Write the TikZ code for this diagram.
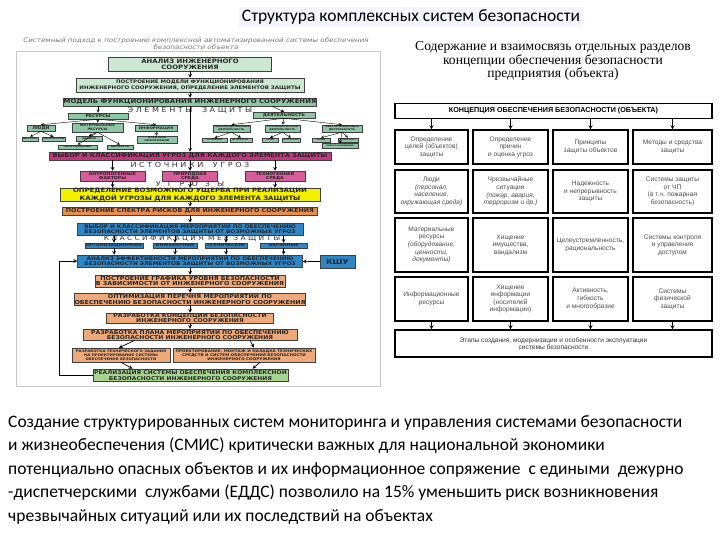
\documentclass[tikz,border=0pt]{standalone}
\usepackage{fontspec}
\setmainfont{Carlito}
\newfontfamily\serifru{Liberation Serif}
\newfontfamily\tabf{Liberation Sans}
\newfontfamily\capsf[FakeStretch=1.15]{DejaVu Sans}

\definecolor{grlight}{HTML}{CDE8D2}
\definecolor{grmid}{HTML}{8CC6A2}
\definecolor{mag}{HTML}{C8357F}
\definecolor{magl}{HTML}{D65C9C}
\definecolor{yel}{HTML}{F4F000}
\definecolor{ora}{HTML}{E98D4E}
\definecolor{oral}{HTML}{EFA877}
\definecolor{blu}{HTML}{2F86C6}
\definecolor{grfin}{HTML}{A6D68E}

\begin{document}
\begin{tikzpicture}[x=1pt,y=-1pt,>=stealth]
  \useasboundingbox (0,0) rectangle (720,540);
  \tikzstyle{blk}=[draw=black!75, line width=0.5pt, inner sep=0pt, align=center, text=black!85, font=\capsf\bfseries\fontsize{5.5}{5.8}\selectfont]
  \tikzstyle{leaf}=[blk, font=\capsf\bfseries\fontsize{2.5}{2.8}\selectfont]
  \tikzstyle{spaced}=[inner sep=0pt, text=black!80, font=\capsf\fontsize{7}{7}\selectfont]
  \tikzstyle{tl}=[->, line width=0.4pt]
  \tikzstyle{ml}=[->, line width=0.7pt]
  \tikzstyle{cell}=[draw, line width=1.1pt, fill=white, align=center, inner sep=1pt, text=black!70, font=\tabf\fontsize{6.6}{7.6}\selectfont]
  \tikzstyle{arr}=[->, line width=0.9pt]

  % title
  \node[fill=blue!4, inner sep=3pt, font=\fontsize{17.5}{19}\selectfont] (title) at (411,17) {Структура комплексных систем безопасности};

  % left picture
  \draw[gray!45, line width=0.8pt] (16,51) rectangle (380,386);
  \node[align=center, text=black!55, font=\capsf\itshape\fontsize{6.2}{7}\selectfont] (srctitle) at (196,44) {Системный подход к построению комплексной автоматизированной системы обеспечения\\безопасности объекта};

  \node[blk, fill=grlight, minimum width=163pt, minimum height=14pt, font=\capsf\bfseries\fontsize{6}{6.3}\selectfont] (analiz) at (190,64) {АНАЛИЗ ИНЖЕНЕРНОГО\\СООРУЖЕНИЯ};
  \node[blk, fill=grlight, minimum width=228pt, minimum height=14pt, font=\capsf\bfseries\fontsize{4.8}{5.4}\selectfont] (postr) at (190,85) {ПОСТРОЕНИЕ МОДЕЛИ ФУНКЦИОНИРОВАНИЯ\\ИНЖЕНЕРНОГО СООРУЖЕНИЯ, ОПРЕДЕЛЕНИЕ ЭЛЕМЕНТОВ ЗАЩИТЫ};
  \node[blk, fill=grmid, minimum width=252pt, minimum height=8pt, font=\capsf\bfseries\fontsize{6}{6}\selectfont] (model) at (190,102) {МОДЕЛЬ ФУНКЦИОНИРОВАНИЯ ИНЖЕНЕРНОГО СООРУЖЕНИЯ};
  \node[spaced] (elem) at (190,110) {Э Л Е М Е Н Т Ы \quad З А Щ И Т Ы};

  \node[leaf, fill=grmid, minimum width=60pt, minimum height=6pt, font=\capsf\bfseries\fontsize{4}{4}\selectfont] (resursy) at (98,116) {РЕСУРСЫ};
  \node[leaf, fill=grmid, minimum width=62pt, minimum height=6pt, font=\capsf\bfseries\fontsize{4}{4}\selectfont] (deyat) at (284,115) {ДЕЯТЕЛЬНОСТЬ};
  \node[leaf, fill=grmid, minimum width=28pt, minimum height=6pt, font=\capsf\bfseries\fontsize{4}{4}\selectfont] (lyudi) at (41,128) {ЛЮДИ};
  \node[leaf, fill=grmid, minimum width=51pt, minimum height=9pt, font=\capsf\bfseries\fontsize{3.2}{3.6}\selectfont] (mater) at (97.5,127.5) {МАТЕРИАЛЬНЫЕ\\РЕСУРСЫ};
  \node[leaf, fill=grmid, minimum width=42pt, minimum height=6pt, font=\capsf\bfseries\fontsize{3.5}{3.5}\selectfont] (inform) at (156,128) {ИНФОРМАЦИЯ};
  \node[leaf, fill=grmid, minimum width=37pt, minimum height=7pt] (dproizv) at (231.5,128.5) {ПРОИЗВОДСТВЕННАЯ\\ДЕЯТЕЛЬНОСТЬ};
  \node[leaf, fill=grmid, minimum width=35pt, minimum height=7pt] (dupr) at (282.5,128.5) {УПРАВЛЕНЧЕСКАЯ\\ДЕЯТЕЛЬНОСТЬ};
  \node[leaf, fill=grmid, minimum width=40pt, minimum height=7pt] (dobesp) at (342,128.5) {ОБЕСПЕЧИВАЮЩАЯ\\ДЕЯТЕЛЬНОСТЬ};

  \node[leaf, fill=grmid, minimum width=16pt, minimum height=4pt, font=\capsf\bfseries\fontsize{2}{2.2}\selectfont] (lpers) at (30,139) {ПЕРСОНАЛ};
  \node[leaf, fill=grmid, minimum width=23pt, minimum height=4pt] (lposet) at (53.5,139) {ПОСЕТИТЕЛИ};
  \node[leaf, fill=grmid, minimum width=26pt, minimum height=5pt] (mzdan) at (89,138.5) {ЗДАНИЯ};
  \node[leaf, fill=grmid, minimum width=39pt, minimum height=4pt] (moborud) at (77.5,147) {ОБОРУДОВАНИЕ};
  \node[leaf, fill=grmid, minimum width=26pt, minimum height=4pt] (mcenn) at (120,147) {ЦЕННОСТИ};
  \node[leaf, fill=grmid, minimum width=40pt, minimum height=7pt] (inos) at (157,139.5) {НОСИТЕЛИ\\ИНФОРМАЦИИ};
  \node[leaf, fill=grmid, minimum width=25pt, minimum height=4pt, font=\capsf\bfseries\fontsize{2}{2.2}\selectfont] (dpa) at (214.5,140) {ОСНОВНАЯ};
  \node[leaf, fill=grmid, minimum width=22pt, minimum height=4pt, font=\capsf\bfseries\fontsize{2}{2.2}\selectfont] (dpb) at (241,140) {ВСПОМОГАТ.};
  \node[leaf, fill=grmid, minimum width=16pt, minimum height=4pt, font=\capsf\bfseries\fontsize{2}{2.2}\selectfont] (dua) at (270,140) {ПЛАН};
  \node[leaf, fill=grmid, minimum width=18pt, minimum height=4pt, font=\capsf\bfseries\fontsize{2}{2.2}\selectfont] (dub) at (291,140) {КОНТРОЛЬ};
  \node[leaf, fill=grmid, minimum width=18pt, minimum height=4pt, font=\capsf\bfseries\fontsize{2}{2.2}\selectfont] (doa) at (321,140) {СВЯЗЬ};
  \node[leaf, fill=grmid, minimum width=20pt, minimum height=4pt, font=\capsf\bfseries\fontsize{2}{2.2}\selectfont] (dob) at (348,140) {ТРАНСПОРТ};
  \node[leaf, fill=grmid, minimum width=36pt, minimum height=5pt, font=\capsf\bfseries\fontsize{2}{2.2}\selectfont] (doc) at (340,146) {ЭНЕРГОСНАБЖЕНИЕ};

  \node[blk, fill=mag, minimum width=282pt, minimum height=8pt, font=\capsf\bfseries\fontsize{5.7}{5.7}\selectfont] (vybor) at (190,156) {ВЫБОР И КЛАССИФИКАЦИЯ УГРОЗ ДЛЯ КАЖДОГО ЭЛЕМЕНТА ЗАЩИТЫ};
  \node[spaced] (istoch) at (190,165) {И С Т О Ч Н И К И \quad У Г Р О З};
  \node[blk, fill=magl, minimum width=65pt, minimum height=10pt, font=\capsf\bfseries\fontsize{4}{4.3}\selectfont] (tantr) at (112.5,176) {АНТРОПОГЕННЫЕ\\ФАКТОРЫ};
  \node[blk, fill=magl, minimum width=55pt, minimum height=10pt, font=\capsf\bfseries\fontsize{4}{4.3}\selectfont] (tprir) at (190,176) {ПРИРОДНАЯ\\СРЕДА};
  \node[blk, fill=magl, minimum width=60pt, minimum height=10pt, font=\capsf\bfseries\fontsize{4}{4.3}\selectfont] (ttehn) at (275,176) {ТЕХНОГЕННАЯ\\СРЕДА};
  \node[spaced] (ugrozy) at (190,184) {У\quad Г\quad Р\quad О\quad З\quad Ы};

  \node[blk, fill=yel, minimum width=260pt, minimum height=13pt, font=\capsf\bfseries\fontsize{6}{6.2}\selectfont] (opred) at (190,194.5) {ОПРЕДЕЛЕНИЕ ВОЗМОЖНОГО УЩЕРБА ПРИ РЕАЛИЗАЦИИ\\КАЖДОЙ УГРОЗЫ ДЛЯ КАЖДОГО ЭЛЕМЕНТА ЗАЩИТЫ};
  \node[blk, fill=ora, minimum width=255pt, minimum height=8pt] (spektr) at (190,211) {ПОСТРОЕНИЕ СПЕКТРА РИСКОВ ДЛЯ ИНЖЕНЕРНОГО СООРУЖЕНИЯ};
  \node[blk, fill=blu, minimum width=226pt, minimum height=12pt, font=\capsf\bfseries\fontsize{5}{5.5}\selectfont] (meropr) at (190,229) {ВЫБОР И КЛАССИФИКАЦИЯ МЕРОПРИЯТИЙ ПО ОБЕСПЕЧЕНИЮ\\БЕЗОПАСНОСТИ ЭЛЕМЕНТОВ ЗАЩИТЫ ОТ ВОЗМОЖНЫХ УГРОЗ};
  \node[spaced, font=\capsf\fontsize{6.5}{6.5}\selectfont] (klass) at (192,239) {К Л А С С И Ф И К А Ц И Я \ М Е Р \ З А Щ И Т Ы};
  \node[blk, fill=blu, minimum width=58pt, minimum height=5pt, font=\capsf\bfseries\fontsize{4}{4}\selectfont] (korg) at (114,245.5) {ОРГАНИЗАЦИОННЫЕ};
  \node[blk, fill=blu, minimum width=44pt, minimum height=5pt, font=\capsf\bfseries\fontsize{4}{4}\selectfont] (kinzh) at (175,245.5) {ИНЖЕНЕРНЫЕ};
  \node[blk, fill=blu, minimum width=42pt, minimum height=5pt, font=\capsf\bfseries\fontsize{4}{4}\selectfont] (ktehn) at (226,245.5) {ТЕХНИЧЕСКИЕ};
  \node[blk, fill=blu, minimum width=47pt, minimum height=5pt, font=\capsf\bfseries\fontsize{4}{4}\selectfont] (kohr) at (283.5,245.5) {ОХРАННЫЕ};
  \node[blk, fill=blu, minimum width=225pt, minimum height=12pt, font=\capsf\bfseries\fontsize{5}{5.5}\selectfont] (effekt) at (190,261) {АНАЛИЗ ЭФФЕКТИВНОСТИ МЕРОПРИЯТИЙ ПО ОБЕСПЕЧЕНИЮ\\БЕЗОПАСНОСТИ ЭЛЕМЕНТОВ ЗАЩИТЫ ОТ ВОЗМОЖНЫХ УГРОЗ};
  \node[blk, fill=blu, minimum width=35pt, minimum height=13pt, font=\capsf\bfseries\fontsize{7}{7}\selectfont] (kshu) at (337.5,261.5) {КШУ};

  \node[blk, fill=oral, minimum width=190pt, minimum height=12pt] (grafik) at (190,281) {ПОСТРОЕНИЕ ГРАФИКА УРОВНЯ БЕЗОПАСНОСТИ\\В ЗАВИСИМОСТИ ОТ ИНЖЕНЕРНОГО СООРУЖЕНИЯ};
  \node[blk, fill=oral, minimum width=228pt, minimum height=12pt] (optim) at (190,299) {ОПТИМИЗАЦИЯ ПЕРЕЧНЯ МЕРОПРИЯТИЙ ПО\\ОБЕСПЕЧЕНИЮ БЕЗОПАСНОСТИ ИНЖЕНЕРНОГО СООРУЖЕНИЯ};
  \node[blk, fill=oral, minimum width=167pt, minimum height=10pt, font=\capsf\bfseries\fontsize{5.3}{5}\selectfont] (konc) at (190,318) {РАЗРАБОТКА КОНЦЕПЦИИ БЕЗОПАСНОСТИ\\ИНЖЕНЕРНОГО СООРУЖЕНИЯ};
  \node[blk, fill=oral, minimum width=214pt, minimum height=11pt, font=\capsf\bfseries\fontsize{5.3}{5.3}\selectfont] (plan) at (190,334.5) {РАЗРАБОТКА ПЛАНА МЕРОПРИЯТИЙ ПО ОБЕСПЕЧЕНИЮ\\БЕЗОПАСНОСТИ ИНЖЕНЕРНОГО СООРУЖЕНИЯ};
  \node[blk, fill=oral, minimum width=98pt, minimum height=14pt, font=\capsf\bfseries\fontsize{3.4}{4}\selectfont] (tzad) at (121,355) {РАЗРАБОТКА ТЕХНИЧЕСКОГО ЗАДАНИЯ\\НА ПРОЕКТИРОВАНИЕ СИСТЕМЫ\\ОБЕСПЕЧЕНИЯ БЕЗОПАСНОСТИ};
  \node[blk, fill=oral, minimum width=142pt, minimum height=14pt, font=\capsf\bfseries\fontsize{3.6}{4}\selectfont] (montazh) at (244,355) {ПРОЕКТИРОВАНИЕ, МОНТАЖ И НАЛАДКА ТЕХНИЧЕСКИХ\\СРЕДСТВ И СИСТЕМ ОБЕСПЕЧЕНИЯ БЕЗОПАСНОСТИ\\ИНЖЕНЕРНОГО СООРУЖЕНИЯ};
  \node[blk, fill=grfin, minimum width=195pt, minimum height=12pt, font=\capsf\bfseries\fontsize{5.2}{5.5}\selectfont] (realiz) at (190.5,375) {РЕАЛИЗАЦИЯ СИСТЕМЫ ОБЕСПЕЧЕНИЯ КОМПЛЕКСНОЙ\\БЕЗОПАСНОСТИ ИНЖЕНЕРНОГО СООРУЖЕНИЯ};

  \draw[ml] (analiz) -- (postr);
  \draw[ml] (postr) -- (model);
  \draw[ml] (model) -- (vybor);
  \draw[tl] (model.south -| resursy.north) -- (resursy.north);
  \draw[tl] ([xshift=-12pt]model.south -| deyat.north) -- (deyat.north);
  \draw[tl] (resursy.south) -- (lyudi.north);
  \draw[tl] (resursy) -- (mater);
  \draw[tl] (resursy.south) -- (inform.north);
  \draw[tl] (lyudi.south) -- (lpers.north);
  \draw[tl] (lyudi.south) -- (lposet.north);
  \draw[tl] (mater.south) -- (mzdan.north);
  \draw[tl] (mater.south) -- (moborud.north);
  \draw[tl] (mater.south) -- (mcenn.north);
  \draw[tl] (inform) -- (inos);
  \draw[tl] (deyat.south) -- (dproizv.north);
  \draw[tl] (deyat) -- (dupr);
  \draw[tl] (deyat.south) -- (dobesp.north);
  \draw[tl] (dproizv.south) -- (dpa.north);
  \draw[tl] (dproizv.south) -- (dpb.north);
  \draw[tl] (dupr.south) -- (dua.north);
  \draw[tl] (dupr.south) -- (dub.north);
  \draw[tl] (dobesp.south) -- (doa.north);
  \draw[tl] (dobesp.south) -- (dob.north);
  \draw[tl] (dobesp.south) -- (doc.north);

  \draw[ml] (vybor.south -| tantr.north) -- (tantr.north);
  \draw[ml] (vybor) -- (tprir);
  \draw[ml] (vybor.south -| ttehn.north) -- (ttehn.north);
  \draw[ml] (tantr.south) -- (opred.north -| tantr.south);
  \draw[ml] (tprir) -- (opred);
  \draw[ml] (ttehn.south) -- (opred.north -| ttehn.south);
  \draw[ml] (opred) -- (spektr);
  \draw[ml] (spektr) -- (meropr);
  \draw[ml] (meropr.south -| korg.north) -- (korg.north);
  \draw[ml] (meropr.south -| kinzh.north) -- (kinzh.north);
  \draw[ml] (meropr.south -| ktehn.north) -- (ktehn.north);
  \draw[ml] (meropr.south -| kohr.north) -- (kohr.north);
  \draw[ml] (korg.south) -- (effekt.north -| korg.south);
  \draw[ml] (kinzh.south) -- (effekt.north -| kinzh.south);
  \draw[ml] (ktehn.south) -- (effekt.north -| ktehn.south);
  \draw[ml] (kohr.south) -- (effekt.north -| kohr.south);
  \draw[ml] (kshu) -- (effekt);
  \draw[ml] (effekt) -- (grafik);
  \draw[ml] (grafik) -- (optim);
  \draw[ml] (optim) -- (konc);
  \draw[ml] (konc) -- (plan);
  \draw[ml] ([xshift=-55pt]plan.south) -- ([xshift=-2pt]tzad.north);
  \draw[ml] ([xshift=60pt]plan.south) -- ([xshift=10pt]montazh.north);
  \draw[ml] (tzad.south) -- ([xshift=-58pt]realiz.north);
  \draw[ml] ([xshift=16pt]montazh.south) -- ([xshift=62pt]realiz.north);
  \draw[ml] (realiz.west) -- ++(-33,0) |- (effekt.west);

  % right part
  \node[align=center, font=\serifru\fontsize{13.6}{10}\selectfont] (razd) at (553,61) {Содержание и взаимосвязь отдельных разделов\\концепции обеспечения безопасности\\предприятия (объекта)};
  \node[draw, line width=1.1pt, minimum width=317pt, minimum height=15pt, inner sep=0pt, font=\tabf\bfseries\fontsize{7.2}{8}\selectfont] (koncep) at (553.5,111) {КОНЦЕПЦИЯ ОБЕСПЕЧЕНИЯ БЕЗОПАСНОСТИ (ОБЪЕКТА)};

  \node[cell, minimum width=73pt, minimum height=34pt] (c11) at (431.5,147) {Определение\\целей (объектов)\\защиты};
  \node[cell, minimum width=75pt, minimum height=34pt] (c12) at (510.5,147) {Определение\\причин\\и оценка угроз};
  \node[cell, minimum width=75pt, minimum height=34pt] (c13) at (590.5,147) {Принципы\\защиты объектов};
  \node[cell, minimum width=79pt, minimum height=34pt] (c14) at (672.5,147) {Методы и средства\\защиты};

  \node[cell, minimum width=73pt, minimum height=43pt] (c21) at (431.5,191.5) {Люди\\\textit{(персонал,}\\\textit{население,}\\\textit{окружающая среда)}};
  \node[cell, minimum width=75pt, minimum height=43pt] (c22) at (510.5,191.5) {Чрезвычайные\\ситуации\\\textit{(пожар, авария,}\\\textit{терроризм и др.)}};
  \node[cell, minimum width=75pt, minimum height=43pt] (c23) at (590.5,191.5) {Надежность\\и непрерывность\\защиты};
  \node[cell, minimum width=79pt, minimum height=43pt] (c24) at (672.5,191.5) {Системы защиты\\от ЧП\\(в т.ч. пожарная\\безопасность)};

  \node[cell, minimum width=73pt, minimum height=54pt] (c31) at (431.5,245) {Материальные\\ресурсы\\\textit{(оборудование,}\\\textit{ценности,}\\\textit{документы)}};
  \node[cell, minimum width=75pt, minimum height=54pt] (c32) at (510.5,245) {Хищение\\имущества,\\вандализм};
  \node[cell, minimum width=75pt, minimum height=54pt] (c33) at (590.5,245) {Целеустремленность,\\рациональность};
  \node[cell, minimum width=79pt, minimum height=54pt] (c34) at (672.5,245) {Системы контроля\\и управления\\доступом};

  \node[cell, minimum width=73pt, minimum height=44pt] (c41) at (431.5,299) {Информационные\\ресурсы};
  \node[cell, minimum width=75pt, minimum height=44pt] (c42) at (510.5,299) {Хищение\\информации\\(носителей\\информации)};
  \node[cell, minimum width=75pt, minimum height=44pt] (c43) at (590.5,299) {Активность,\\гибкость\\и многообразие};
  \node[cell, minimum width=79pt, minimum height=44pt] (c44) at (672.5,299) {Системы\\физической\\защиты};

  \node[cell, minimum width=317pt, minimum height=27pt, text=black!80] (etapy) at (553.5,343.5) {Этапы создания, модернизации и особенности эксплуатации\\системы безопасности};

  \draw[arr] (koncep.south -| c11.north) -- (c11.north);
  \draw[arr] (koncep.south -| c12.north) -- (c12.north);
  \draw[arr] (koncep.south -| c13.north) -- (c13.north);
  \draw[arr] (koncep.south -| c14.north) -- (c14.north);
  \draw[arr] (c41.south) -- (etapy.north -| c41.south);
  \draw[arr] (c42.south) -- (etapy.north -| c42.south);
  \draw[arr] (c43.south) -- (etapy.north -| c43.south);
  \draw[arr] (c44.south) -- (etapy.north -| c44.south);

  % text below
  \node[anchor=north west, align=left, inner sep=0pt, font=\fontsize{17.5}{23.5}\selectfont] (smis) at (8,415) {Создание структурированных систем мониторинга и управления системами безопасности\\и жизнеобеспечения (СМИС) критически важных для национальной экономики\\потенциально опасных объектов и их информационное сопряжение \ с едиными \ дежурно\\-диспетчерскими \ службами (ЕДДС) позволило на 15\% уменьшить риск возникновения\\чрезвычайных ситуаций или их последствий на объектах};
\end{tikzpicture}
\end{document}
